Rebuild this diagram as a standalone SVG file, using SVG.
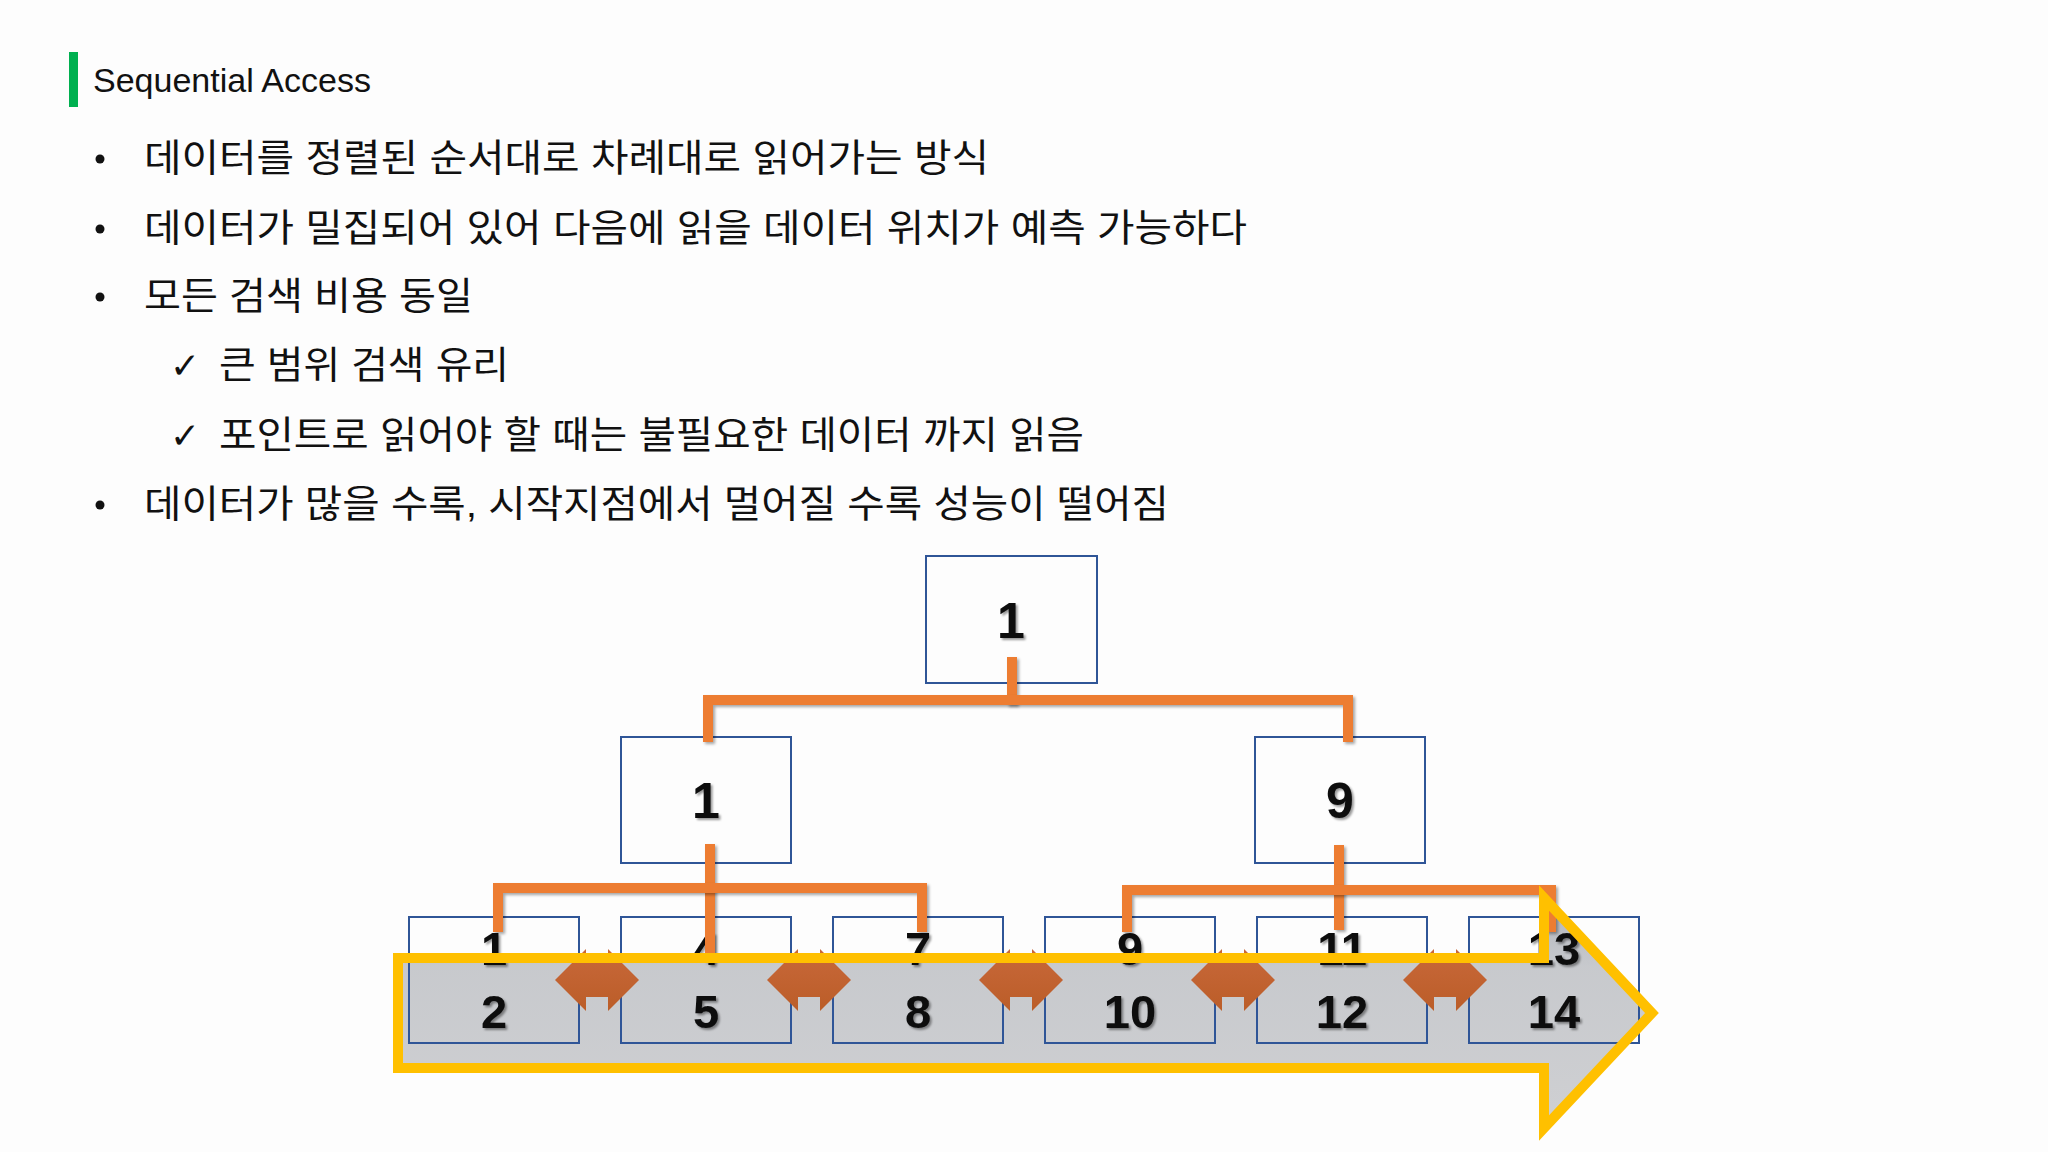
<svg xmlns="http://www.w3.org/2000/svg" width="2048" height="1152" viewBox="0 0 2048 1152">
  <defs>
    <linearGradient id="arrowFill" x1="0" y1="0" x2="0" y2="1">
      <stop offset="0" stop-color="#a9adb5"/>
      <stop offset="0.3" stop-color="#c3c5c9"/>
      <stop offset="1" stop-color="#cbcccf"/>
    </linearGradient>
    <linearGradient id="dblFill" x1="0" y1="0" x2="0" y2="1">
      <stop offset="0" stop-color="#c8683a"/>
      <stop offset="1" stop-color="#bb5d28"/>
    </linearGradient>
    <filter id="shadow" filterUnits="userSpaceOnUse" x="0" y="0" width="2048" height="1152">
      <feDropShadow dx="2" dy="2" stdDeviation="1.5" flood-color="#000" flood-opacity="0.35"/>
    </filter>
    <filter id="txtShadow" filterUnits="userSpaceOnUse" x="0" y="0" width="2048" height="1152">
      <feDropShadow dx="2" dy="2" stdDeviation="1.2" flood-color="#000" flood-opacity="0.4"/>
    </filter>
    <polygon id="dbl" points="-42,0 -11,-31 -11,-17 11,-17 11,-31 42,0 11,31 11,17 -11,17 -11,31"/>
  </defs>
  <style>
    .title { font-family: "Liberation Sans", "Noto Sans", sans-serif; font-size: 33px; fill: #111; }
    .body { font-family: "Liberation Sans", "Noto Sans CJK KR", sans-serif; font-size: 37.5px; fill: #111; }
    .check { font-family: "DejaVu Sans", sans-serif; font-size: 36px; fill: #111; }
    .box { fill: none; stroke: #2f5597; stroke-width: 2; }
    .num { font-family: "Liberation Sans", "Noto Sans", sans-serif; font-weight: bold; font-size: 50px; fill: #0a0a0a; text-anchor: middle; filter: url(#txtShadow); }
    .leafnum { font-size: 47px; }
    .conn { fill: none; stroke: #ed7d31; stroke-width: 10; stroke-linejoin: miter; filter: url(#shadow); }
    .dbl { fill: url(#dblFill); }
  </style>

  <rect x="0" y="0" width="2048" height="1152" fill="#fdfdfd"/>

  <!-- Title -->
  <g id="title">
    <rect x="69" y="52" width="9" height="55" fill="#00b050"/>
    <text class="title" x="93" y="92" textLength="278" lengthAdjust="spacingAndGlyphs">Sequential Access</text>
  </g>

  <!-- Bullets -->
  <g id="bullets">
    <circle cx="100" cy="159" r="4.5" fill="#111"/>
    <text class="body" x="144" y="171" textLength="845" lengthAdjust="spacingAndGlyphs">데이터를 정렬된 순서대로 차례대로 읽어가는 방식</text>
    <circle cx="100" cy="229" r="4.5" fill="#111"/>
    <text class="body" x="144" y="241" textLength="1103" lengthAdjust="spacingAndGlyphs">데이터가 밀집되어 있어 다음에 읽을 데이터 위치가 예측 가능하다</text>
    <circle cx="100" cy="297" r="4.5" fill="#111"/>
    <text class="body" x="144" y="309" textLength="329" lengthAdjust="spacingAndGlyphs">모든 검색 비용 동일</text>
    <text class="check" x="170" y="378">✓</text>
    <text class="body" x="219" y="378" textLength="290" lengthAdjust="spacingAndGlyphs">큰 범위 검색 유리</text>
    <text class="check" x="170" y="448">✓</text>
    <text class="body" x="219" y="448" textLength="865" lengthAdjust="spacingAndGlyphs">포인트로 읽어야 할 때는 불필요한 데이터 까지 읽음</text>
    <circle cx="100" cy="505" r="4.5" fill="#111"/>
    <text class="body" x="144" y="517" textLength="1025" lengthAdjust="spacingAndGlyphs">데이터가 많을 수록, 시작지점에서 멀어질 수록 성능이 떨어짐</text>
  </g>

  <!-- Big sequential arrow fill (behind nodes) -->
  <path id="seq-arrow-fill" d="M398,958 H1544 V898 L1652,1013 L1544,1128 V1068 H398 Z" fill="url(#arrowFill)" fill-opacity="0.92"/>

  <!-- Nodes -->
  <g id="node-root">
    <rect class="box" x="926" y="556" width="171" height="127"/>
    <text class="num" x="1011" y="638">1</text>
  </g>
  <g id="node-l2-left">
    <rect class="box" x="621" y="737" width="170" height="126"/>
    <text class="num" x="706" y="818">1</text>
  </g>
  <g id="node-l2-right">
    <rect class="box" x="1255" y="737" width="170" height="126"/>
    <text class="num" x="1340" y="818">9</text>
  </g>
  <g id="leaf-1">
    <rect class="box" x="409" y="917" width="170" height="126"/>
    <text class="num leafnum" x="494" y="965">1</text>
    <text class="num leafnum" x="494" y="1028">2</text>
  </g>
  <g id="leaf-2">
    <rect class="box" x="621" y="917" width="170" height="126"/>
    <text class="num leafnum" x="706" y="965">4</text>
    <text class="num leafnum" x="706" y="1028">5</text>
  </g>
  <g id="leaf-3">
    <rect class="box" x="833" y="917" width="170" height="126"/>
    <text class="num leafnum" x="918" y="965">7</text>
    <text class="num leafnum" x="918" y="1028">8</text>
  </g>
  <g id="leaf-4">
    <rect class="box" x="1045" y="917" width="170" height="126"/>
    <text class="num leafnum" x="1130" y="965">9</text>
    <text class="num leafnum" x="1130" y="1028">10</text>
  </g>
  <g id="leaf-5">
    <rect class="box" x="1257" y="917" width="170" height="126"/>
    <text class="num leafnum" x="1342" y="965">11</text>
    <text class="num leafnum" x="1342" y="1028">12</text>
  </g>
  <g id="leaf-6">
    <rect class="box" x="1469" y="917" width="170" height="126"/>
    <text class="num leafnum" x="1554" y="965">13</text>
    <text class="num leafnum" x="1554" y="1028">14</text>
  </g>

  <!-- Connectors -->
  <g id="connectors">
    <path class="conn" d="M1012,657 V705"/>
    <path class="conn" d="M708,742 V700 H1348 V742"/>
    <path class="conn" d="M710,844 V962"/>
    <path class="conn" d="M498,932 V888 H922 V932"/>
    <path class="conn" d="M1339,845 V930"/>
    <path class="conn" d="M1127,932 V890 H1551 V932"/>
  </g>

  <!-- Double arrows between leaves -->
  <g id="double-arrows">
    <use href="#dbl" class="dbl" transform="translate(597,980)"/>
    <use href="#dbl" class="dbl" transform="translate(809,980)"/>
    <use href="#dbl" class="dbl" transform="translate(1021,980)"/>
    <use href="#dbl" class="dbl" transform="translate(1233,980)"/>
    <use href="#dbl" class="dbl" transform="translate(1445,980)"/>
  </g>

  <!-- Big sequential arrow outline -->
  <path id="seq-arrow-outline" d="M398,958 H1544 V898 L1652,1013 L1544,1128 V1068 H398 Z" fill="none" stroke="#ffc000" stroke-width="10" stroke-linejoin="miter"/>
</svg>
